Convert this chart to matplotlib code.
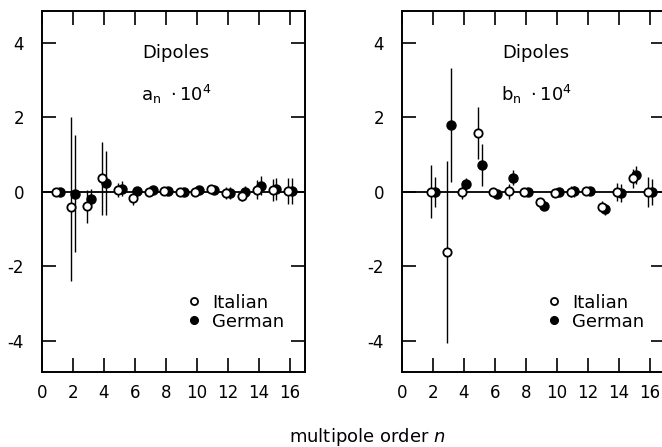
import numpy as np
import matplotlib
matplotlib.use('Agg')
from matplotlib import pyplot as plt

# multipole orders
n_a = [1, 2, 3, 4, 5, 6, 7, 8, 9, 10, 11, 12, 13, 14, 15, 16]
n_b = [2, 3, 4, 5, 6, 7, 8, 9, 10, 11, 12, 13, 14, 15, 16]

# a_n * 1e4 (left panel)
a_ital = [0.0, -0.40, -0.37, 0.38, 0.05, -0.16, 0.0, 0.02, 0.0, 0.0, 0.09, -0.03, -0.10, 0.06, 0.05, 0.02]
a_ital_lo = [0.05, 2.0, 0.46, 0.99, 0.2, 0.2, 0.1, 0.1, 0.1, 0.1, 0.1, 0.15, 0.15, 0.25, 0.3, 0.35]
a_ital_hi = [0.05, 2.4, 0.42, 0.96, 0.2, 0.2, 0.1, 0.1, 0.1, 0.1, 0.1, 0.15, 0.15, 0.25, 0.3, 0.35]
a_germ = [0.0, -0.05, -0.18, 0.24, 0.09, 0.02, 0.06, 0.02, 0.0, 0.06, 0.06, -0.03, 0.0, 0.17, 0.08, 0.02]
a_germ_err = [0.05, 1.57, 0.25, 0.86, 0.2, 0.1, 0.1, 0.1, 0.1, 0.1, 0.1, 0.15, 0.15, 0.25, 0.3, 0.35]

# b_n * 1e4 (right panel)
b_ital = [0.0, -1.61, 0.0, 1.58, 0.0, 0.02, 0.0, -0.27, -0.02, 0.0, 0.02, -0.40, 0.0, 0.36, 0.0]
b_ital_err = [0.71, 2.45, 0.2, 0.71, 0.1, 0.2, 0.1, 0.1, 0.1, 0.15, 0.1, 0.15, 0.25, 0.25, 0.4]
b_germ = [0.0, 1.80, 0.21, 0.72, -0.05, 0.38, 0.0, -0.37, 0.0, 0.02, 0.02, -0.47, -0.03, 0.45, 0.0]
b_germ_err = [0.40, 1.53, 0.17, 0.56, 0.1, 0.2, 0.1, 0.1, 0.1, 0.15, 0.1, 0.15, 0.25, 0.25, 0.35]

xticks = [2, 4, 6, 8, 10, 12, 14, 16]
xticklabels = ['0', '2', '4', '6', '8', '10', '12', '14', '16']
yticks = [-4, -2, 0, 2, 4]

FS = 13
plt.rcParams['font.family'] = 'DejaVu Sans'

fig = plt.figure(figsize=(6.62, 4.47), dpi=100)
ax1 = fig.add_axes([42/662, 75/447, 263/662, 361/447])
ax2 = fig.add_axes([402/662, 75/447, 263/662, 361/447])


def draw(ax, n, yi, yi_err, yg, yg_err, label):
    n = np.array(n)
    ax.axhline(0, color='black', lw=1.3, zorder=1)
    ax.errorbar(n - 0.1, yi, yerr=yi_err, fmt='o', ms=6, mfc='white', mec='black',
                mew=1.3, ecolor='black', elinewidth=1.0, capsize=0, zorder=3, label='Italian')
    ax.errorbar(n + 0.15, yg, yerr=yg_err, fmt='o', ms=6.5, mfc='black', mec='black',
                ecolor='black', elinewidth=1.0, capsize=0, zorder=2, label='German')
    ax.set_xlim(0, 17)
    ax.set_ylim(-4.84, 4.86)
    ax.set_xticks([0] + xticks)
    ax.set_xticklabels(xticklabels)
    ax.set_yticks(yticks)
    ax.set_yticklabels(['-4', '-2', '0', '2', '4'])
    ax.tick_params(direction='in', length=10, width=1.2, top=True, right=True,
                   labelsize=12)
    ax.tick_params(axis='x', pad=9)
    ax.tick_params(axis='y', pad=13)
    for s in ax.spines.values():
        s.set_linewidth(1.4)
    ax.text(0.51, 0.885, 'Dipoles', transform=ax.transAxes, ha='center', va='center', fontsize=FS)
    ax.text(0.51, 0.77, label, transform=ax.transAxes, ha='center', va='center', fontsize=FS)
    h, l = ax.get_legend_handles_labels()
    hs = [hh[0] for hh in h]
    ax.legend(hs, l, loc='center left', bbox_to_anchor=(0.545, 0.166), frameon=False,
              handlelength=1.0, handletextpad=0.5, borderpad=0, borderaxespad=0,
              labelspacing=0.05, fontsize=FS, markerscale=0.85)


draw(ax1, n_a, a_ital, [a_ital_lo, a_ital_hi], a_germ, a_germ_err, r'$\mathregular{a_n\ \cdot 10^4}$')
draw(ax2, n_b, b_ital, b_ital_err, b_germ, b_germ_err, r'$\mathregular{b_n\ \cdot 10^4}$')

fig.text(367/662, 1 - 437/447, 'multipole order $n$', ha='center', va='center', fontsize=FS)

plt.savefig('out.png', dpi=100)
plt.close()
